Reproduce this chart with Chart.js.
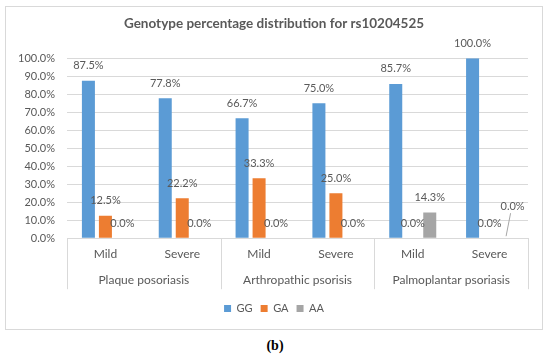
<!DOCTYPE html>
<html><head><meta charset="utf-8">
<script src="https://cdn.jsdelivr.net/npm/chart.js@4"></script>
<style>
html,body{margin:0;padding:0;background:#fff;}
#frame{position:absolute;left:5px;top:6px;width:536px;height:322px;border:1px solid #d9d9d9;}
canvas{display:block}
#cap{position:absolute;left:0;width:550px;top:338px;text-align:center;font:bold 14px "Liberation Serif";color:#000;}
</style></head><body>
<div id="frame"><canvas id="c" width="536" height="322" style="width:536px;height:322px"></canvas></div>
<div id="cap">(b)</div>
<script>
const categories = ['Mild','Severe','Mild','Severe','Mild','Severe'];
const groups = ['Plaque posoriasis','Arthropathic psorisis','Palmoplantar psoriasis'];
const seriesNames = ['GG','GA','AA'];
const ggValues = [87.5, 77.8, 66.7, 75.0, 85.7, 100.0];
const gaValues = [12.5, 22.2, 33.3, 25.0, 0.0, 0.0];
const aaValues = [0.0, 0.0, 0.0, 0.0, 14.3, 0.0];
const colors = ['#5B9BD5','#ED7D31','#A5A5A5'];
const txt = '#595959';
const FONT = 'Lato';

// label displacement (with leader line) used for one overlapping label
const labelShift = {ds:2, idx:5, dx:6, dy:-17};

const dataLabels = {
  id:'dataLabels',
  afterDatasetsDraw(chart){
    const ctx = chart.ctx;
    ctx.save();
    ctx.font = '11px ' + FONT;
    ctx.fillStyle = txt;
    ctx.textAlign = 'center';
    ctx.textBaseline = 'middle';
    chart.data.datasets.forEach((ds, di) => {
      const meta = chart.getDatasetMeta(di);
      meta.data.forEach((bar, i) => {
        let x = bar.x, y = bar.y - 15;
        if (di === labelShift.ds && i === labelShift.idx) {
          x += labelShift.dx; y += labelShift.dy;
          ctx.strokeStyle = '#a6a6a6'; ctx.lineWidth = 1;
          ctx.beginPath();
          ctx.moveTo(bar.x - 0.5, bar.base - 2);
          ctx.lineTo(x - 2, y + 7);
          ctx.stroke();
        }
        ctx.fillText(ds.data[i].toFixed(1) + '%', x, y);
      });
    });
    ctx.restore();
  }
};

const separators = {
  id:'separators',
  afterDraw(chart){
    const x = chart.scales.x;
    const ctx = chart.ctx;
    ctx.save();
    ctx.strokeStyle = '#d9d9d9'; ctx.lineWidth = 1;
    for (let k = 0; k <= categories.length; k += 2) {
      const px = Math.round(x.getPixelForValue(k - 0.5)) + 0.5;
      ctx.beginPath();
      ctx.moveTo(px, x.top);
      ctx.lineTo(px, x.top + 51);
      ctx.stroke();
    }
    ctx.restore();
  }
};

new Chart(document.getElementById('c'), {
  type:'bar',
  data:{
    labels: categories,
    datasets:[
      {label:seriesNames[0], data:ggValues, backgroundColor:colors[0]},
      {label:seriesNames[1], data:gaValues, backgroundColor:colors[1]},
      {label:seriesNames[2], data:aaValues, backgroundColor:colors[2]}
    ]
  },
  options:{
    responsive:false,
    animation:false,
    datasets:{bar:{barPercentage:0.765, categoryPercentage:0.664}},
    layout:{padding:{left:0, right:0, top:0, bottom:5}},
    plugins:{
      title:{display:true, text:'Genotype percentage distribution for rs10204525',
        color:txt, font:{family:FONT, size:13.5, weight:'bold'}, padding:{top:9, bottom:26}},
      legend:{position:'bottom', labels:{boxWidth:7, boxHeight:7, color:txt,
        font:{family:FONT, size:11}, padding:8}},
      tooltip:{enabled:false}
    },
    scales:{
      y:{min:0, max:100,
        ticks:{stepSize:10, autoSkip:false, color:txt, font:{family:FONT, size:11}, padding:12,
          callback:v => v.toFixed(1) + '%'},
        grid:{color:'#d9d9d9', drawTicks:false},
        border:{display:false},
        afterFit:s => { s.width = 61; }
      },
      yR:{position:'right', display:true,
        ticks:{display:false}, grid:{display:false, drawTicks:false}, border:{display:false},
        afterFit:s => { s.width = 14; }
      },
      x:{
        ticks:{color:txt, font:{family:FONT, size:12}, padding:9, maxRotation:0, autoSkip:false},
        grid:{display:false, drawTicks:false},
        border:{color:'#d9d9d9'}
      },
      x2:{type:'category', labels:groups, position:'bottom', offset:true,
        ticks:{color:txt, font:{family:FONT, size:12}, padding:2, maxRotation:0, autoSkip:false},
        grid:{display:false, drawTicks:false}, border:{display:false},
        afterFit:s => { s.height = s.height + 6; }
      }
    }
  },
  plugins:[dataLabels, separators]
});
</script>
</body></html>
